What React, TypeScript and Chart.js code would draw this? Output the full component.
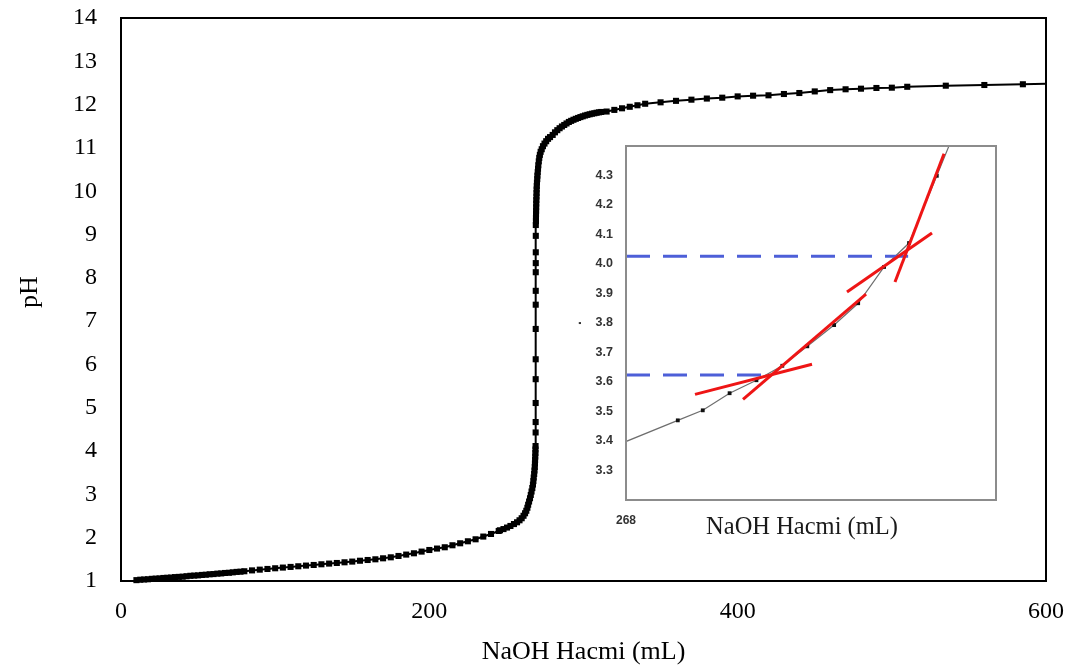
import React, { useEffect, useRef } from "react";
import { Chart, registerables } from "chart.js";

Chart.register(...registerables);

// ---------- main titration curve (NaOH volume in mL, pH) ----------
const VOLUME_ML = [
  10, 12.5, 15, 17.5, 20, 22.5, 25, 27.5, 30, 32.5, 35, 37.5, 40, 42.5, 45, 47.5, 50, 52.5, 55, 57.5,
  60, 62.5, 65, 67.5, 70, 72.5, 75, 77.5, 80,
  85, 90, 95, 100, 105, 110, 115, 120, 125, 130, 135, 140, 145, 150, 155, 160, 165, 170, 175, 180,
  185, 190, 195, 200, 205, 210, 215, 220, 225, 230, 235, 240, 245,
  245.8, 248.1, 250.4, 252.6, 254.9, 256.9, 258.5, 259.9, 261.1, 262.1, 262.9, 263.6, 264.1, 264.7,
  265.3, 265.8, 266.3, 266.8, 267.2, 267.5, 267.7, 268.0, 268.2, 268.4, 268.5, 268.6, 268.7, 268.8,
  268.85, 268.9,
  268.95, 268.96, 268.97, 268.98, 268.99, 269.0, 269.01, 269.02, 269.03, 269.04, 269.05, 269.06, 269.07,
  269.17, 269.17, 269.2, 269.25, 269.3, 269.35, 269.4, 269.5, 269.55, 269.6, 269.7, 269.8, 270.0,
  270.1, 270.3, 270.5, 270.7, 271.0, 271.3, 271.7, 272.2, 272.9, 273.7, 274.7, 275.8, 277.0, 278.3,
  280, 281.5, 283, 284.5, 286, 287.5, 289, 290.5, 292, 293.5, 295, 296.5, 298, 299.5, 301, 302.5,
  304, 305.5, 307, 308.5, 310, 311.5,
  315, 320, 325, 330, 335, 340, 350, 360, 370, 380, 390, 400, 410, 420, 430, 440, 450, 460, 470,
  480, 490, 500, 510, 535, 560, 585, 610,
];
const PH_VALUES = [
  1.02, 1.03, 1.035, 1.04, 1.05, 1.055, 1.06, 1.07, 1.075, 1.08, 1.09, 1.095, 1.1, 1.11, 1.12, 1.125,
  1.13, 1.14, 1.145, 1.155, 1.16, 1.17, 1.175, 1.185, 1.19, 1.2, 1.21, 1.215, 1.225,
  1.245, 1.262, 1.278, 1.294, 1.31, 1.325, 1.34, 1.356, 1.37, 1.386, 1.402, 1.416, 1.432, 1.448,
  1.468, 1.485, 1.501, 1.524, 1.547, 1.578, 1.61, 1.64, 1.679, 1.716, 1.749, 1.779, 1.825, 1.871,
  1.917, 1.963, 2.026, 2.086, 2.155,
  2.171, 2.199, 2.234, 2.271, 2.315, 2.356, 2.402, 2.449, 2.506, 2.564, 2.622, 2.691, 2.761, 2.835,
  2.911, 2.987, 3.066, 3.146, 3.227, 3.308, 3.389, 3.47, 3.551, 3.632, 3.713, 3.793, 3.874, 3.955,
  4.036, 4.117,
  4.43, 4.67, 5.11, 5.66, 6.12, 6.82, 7.38, 7.7, 8.13, 8.34, 8.59, 8.97, 9.22,
  9.31, 9.39, 9.47, 9.55, 9.63, 9.715, 9.796, 9.877, 9.958, 10.04, 10.12, 10.2, 10.28,
  10.36, 10.44, 10.52, 10.6, 10.69, 10.77, 10.84, 10.91, 10.97, 11.04, 11.1, 11.155, 11.21, 11.25,
  11.3, 11.36, 11.41, 11.455, 11.495, 11.53, 11.565, 11.6, 11.625, 11.65, 11.672, 11.692, 11.712,
  11.73, 11.748, 11.763, 11.777, 11.79, 11.8, 11.812, 11.822, 11.83,
  11.84, 11.878, 11.915, 11.95, 11.985, 12.02, 12.053, 12.087, 12.114, 12.14, 12.16, 12.19, 12.206,
  12.215, 12.245, 12.268, 12.305, 12.335, 12.354, 12.368, 12.384, 12.391, 12.412, 12.437, 12.453,
  12.47, 12.485,
];
const X_TICKS = [0, 200, 400, 600];
const Y_TICKS = [1, 2, 3, 4, 5, 6, 7, 8, 9, 10, 11, 12, 13, 14];

// ---------- inset (zoom around the first equivalence region) ----------
const INSET_VOLUME = [267.7, 268.56, 268.83, 269.12, 269.41, 269.69, 269.96, 270.25, 270.51, 270.79, 271.06, 271.36, 271.66];
const INSET_PH = [3.36, 3.47, 3.504, 3.562, 3.606, 3.655, 3.721, 3.793, 3.867, 3.99, 4.071, 4.299, 4.53];
const INSET_PH_TICKS = [3.3, 3.4, 3.5, 3.6, 3.7, 3.8, 3.9, 4.0, 4.1, 4.2, 4.3];
const INSET_X_TICKS = [268];
const TANGENT_X = [
  [268.746, 270.011],
  [269.265, 270.595],
  [270.389, 271.308],
  [270.908, 271.438],
];
const TANGENT_PH = [
  [3.558, 3.66],
  [3.541, 3.898],
  [3.905, 4.105],
  [3.939, 4.374],
];
const GUIDE_X = [
  [268, 271.05],
  [268, 269.6],
];
const GUIDE_PH = [4.026, 3.624];

const SERIF = "'Liberation Serif', 'Times New Roman', serif";
const SANS = "'Liberation Sans', Arial, sans-serif";

const framePlugin = {
  id: "frame",
  afterDatasetsDraw(chart: any) {
    const { ctx, chartArea: a } = chart;
    ctx.save();
    ctx.strokeStyle = "#000";
    ctx.lineWidth = 2;
    ctx.strokeRect(a.left, a.top, a.right - a.left, a.bottom - a.top);
    // y-axis title, rotated
    ctx.translate(30, 292);
    ctx.rotate(-Math.PI / 2);
    ctx.fillStyle = "#000";
    ctx.font = `26px ${SERIF}`;
    ctx.textAlign = "center";
    ctx.textBaseline = "middle";
    ctx.fillText("pH", 0, 0);
    ctx.restore();
  },
};

const insetPlugin = {
  id: "insetFrame",
  afterDraw(chart: any) {
    const { ctx, chartArea: a } = chart;
    ctx.save();
    ctx.strokeStyle = "#8c8c8c";
    ctx.lineWidth = 2;
    ctx.strokeRect(a.left, a.top, a.right - a.left, a.bottom - a.top);
    ctx.fillStyle = "#1a1a1a";
    ctx.font = `24.5px ${SERIF}`;
    ctx.textAlign = "center";
    ctx.textBaseline = "middle";
    ctx.fillText("NaOH Hacmi (mL)", 242, 398);
    ctx.restore();
  },
};

const noScalePadding = (s: any) => {
  s.paddingTop = 0;
  s.paddingBottom = 0;
  s.paddingLeft = 0;
  s.paddingRight = 0;
};

export default function App() {
  const mainRef = useRef<HTMLCanvasElement | null>(null);
  const insetRef = useRef<HTMLCanvasElement | null>(null);

  useEffect(() => {
    const main = new Chart(mainRef.current as HTMLCanvasElement, {
      type: "scatter",
      data: {
        datasets: [
          {
            data: VOLUME_ML.map((x, i) => ({ x, y: PH_VALUES[i] })),
            showLine: true,
            borderColor: "#000",
            borderWidth: 2,
            pointStyle: "rect",
            pointRadius: 4.3,
            pointBackgroundColor: "#000",
            pointBorderWidth: 0,
            clip: { left: 6, top: 6, right: 0, bottom: 6 },
          } as any,
        ],
      },
      options: {
        responsive: false,
        animation: false,
        events: [],
        layout: { autoPadding: false, padding: { left: 0, top: 18, right: 30, bottom: 0 } },
        plugins: { legend: { display: false }, tooltip: { enabled: false } },
        scales: {
          x: {
            type: "linear",
            min: 0,
            max: 600,
            grid: { display: false, drawTicks: false },
            border: { display: false },
            afterBuildTicks: (s: any) => {
              s.ticks = X_TICKS.map((v) => ({ value: v }));
            },
            afterFit: (s: any) => {
              s.height = 88;
              noScalePadding(s);
            },
            ticks: { padding: 16, color: "#000", font: { family: SERIF, size: 24 }, maxRotation: 0, autoSkip: false },
            title: {
              display: true,
              text: "NaOH Hacmi (mL)",
              color: "#000",
              font: { family: SERIF, size: 26 },
              padding: { top: 0, bottom: 1 },
            },
          },
          y: {
            type: "linear",
            min: 1,
            max: 14,
            grid: { display: false, drawTicks: false },
            border: { display: false },
            afterBuildTicks: (s: any) => {
              s.ticks = Y_TICKS.map((v) => ({ value: v }));
            },
            afterFit: (s: any) => {
              s.width = 121;
              noScalePadding(s);
            },
            ticks: { padding: 24, color: "#000", font: { family: SERIF, size: 24 }, autoSkip: false },
            title: { display: false },
          },
        },
      } as any,
      plugins: [framePlugin],
    });

    const insetDatasets: any[] = [
      {
        data: INSET_VOLUME.map((x, i) => ({ x, y: INSET_PH[i] })),
        showLine: true,
        borderColor: "#6e6e6e",
        borderWidth: 1.2,
        pointStyle: "rect",
        pointRadius: 2.7,
        pointBackgroundColor: "#111",
        pointBorderWidth: 0,
        clip: 0,
        order: 3,
      },
    ];
    GUIDE_X.forEach((xs, i) => {
      insetDatasets.push({
        data: xs.map((x) => ({ x, y: GUIDE_PH[i] })),
        showLine: true,
        borderColor: "#4d5fd8",
        borderWidth: 3,
        borderDash: [24, 13],
        pointRadius: 0,
        clip: 0,
        order: 2,
      });
    });
    TANGENT_X.forEach((xs, i) => {
      insetDatasets.push({
        data: xs.map((x, j) => ({ x, y: TANGENT_PH[i][j] })),
        showLine: true,
        borderColor: "#ee1515",
        borderWidth: 3,
        pointRadius: 0,
        clip: 0,
        order: 1,
      });
    });

    const inset = new Chart(insetRef.current as HTMLCanvasElement, {
      type: "scatter",
      data: { datasets: insetDatasets },
      options: {
        responsive: false,
        animation: false,
        events: [],
        layout: { autoPadding: false, padding: { left: 0, top: 16, right: 14, bottom: 0 } },
        plugins: { legend: { display: false }, tooltip: { enabled: false } },
        scales: {
          x: {
            type: "linear",
            min: 268,
            max: 272,
            grid: { display: false, drawTicks: false },
            border: { display: false },
            afterBuildTicks: (s: any) => {
              s.ticks = INSET_X_TICKS.map((v) => ({ value: v }));
            },
            afterFit: (s: any) => {
              s.height = 45;
              noScalePadding(s);
            },
            ticks: {
              padding: 13,
              color: "#333",
              font: { family: SANS, size: 12, weight: "bold" },
              maxRotation: 0,
              autoSkip: false,
              callback: (v: any) => String(v),
            },
          },
          y: {
            type: "linear",
            min: 3.2,
            max: 4.4,
            grid: { display: false, drawTicks: false },
            border: { display: false },
            afterBuildTicks: (s: any) => {
              s.ticks = INSET_PH_TICKS.map((v) => ({ value: v }));
            },
            afterFit: (s: any) => {
              s.width = 66;
              noScalePadding(s);
            },
            ticks: {
              padding: 13,
              color: "#333",
              font: { family: SANS, size: 12.5, weight: "bold" },
              autoSkip: false,
              callback: (v: any) => Number(v).toFixed(1),
            },
            title: {
              display: true,
              text: ".",
              color: "#333",
              font: { family: SANS, size: 14, weight: "bold" },
              padding: { top: 9, bottom: 0 },
            },
          },
        },
      } as any,
      plugins: [insetPlugin],
    });

    return () => {
      main.destroy();
      inset.destroy();
    };
  }, []);

  return (
    <div style={{ position: "absolute", left: 0, top: 0, width: 1076, height: 669, background: "#fff" }}>
      <canvas
        ref={mainRef}
        width={1076}
        height={669}
        style={{ position: "absolute", left: 0, top: 0, width: 1076, height: 669 }}
      />
      <canvas
        ref={insetRef}
        width={450}
        height={415}
        style={{ position: "absolute", left: 560, top: 130, width: 450, height: 415 }}
      />
    </div>
  );
}
